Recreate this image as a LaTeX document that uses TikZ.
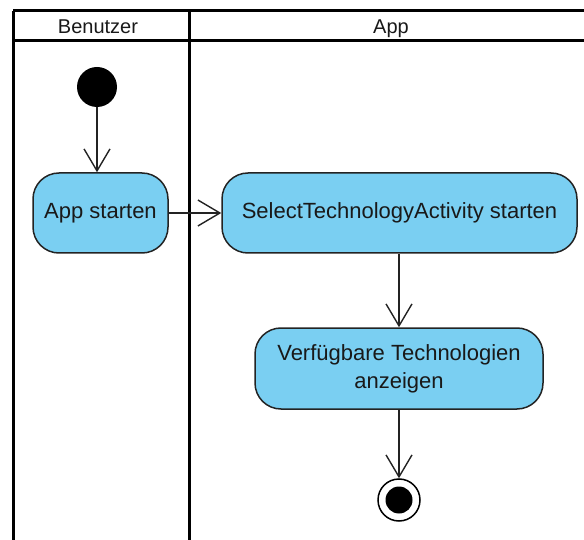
\documentclass[tikz,border=0pt]{standalone}
\usepackage{fontspec}
\setmainfont{Liberation Sans}
\usetikzlibrary{arrows.meta}
\definecolor{actfill}{RGB}{122,207,242}
\definecolor{actline}{RGB}{35,35,35}
\definecolor{txt}{RGB}{25,25,25}
\begin{document}
\begin{tikzpicture}[x=1pt,y=-1pt,
  lane/.style={line width=3pt, black},
  lanelabel/.style={inner sep=0pt, anchor=base, text=txt, font=\fontsize{20}{24}\selectfont},
  action/.style={draw=actline, fill=actfill, line width=1.5pt, rounded corners=26pt,
    minimum height=80pt, inner sep=0pt, align=center, text=txt,
    font=\fontsize{22}{28}\selectfont},
  flow/.style={line width=1.4pt, actline,
    -{Straight Barb[length=22pt, width=26pt, line width=1.4pt]}},
  startnode/.style={circle, fill=black, minimum size=40pt, inner sep=0pt},
  endring/.style={circle, draw=black, fill=white, line width=1.5pt, minimum size=42pt, inner sep=0pt},
  enddot/.style={circle, fill=black, minimum size=27pt, inner sep=0pt},
]
\useasboundingbox (0,0) rectangle (584,540);

% swimlane frame
\coordinate (tl) at (13,11);
\coordinate (hl) at (13,41);
\coordinate (tr) at (584,11);
\coordinate (hr) at (584,41);
\coordinate (dtop) at (189,11);
\coordinate (lbot) at (13,540);
\coordinate (dbot) at (189,540);
\draw[lane] (tl) -- (tr);
\draw[lane] (hl) -- (hr);
\draw[lane] (tl) -- (lbot);
\draw[lane] (dtop) -- (dbot);

% lane titles
\node[lanelabel] (laneuser) at (98,34) {Benutzer};
\node[lanelabel] (laneapp) at (391,34) {App};

% activity nodes
\node[startnode] (init) at (97,87) {};
\node[action, minimum width=135pt] (app) at (100.5,213) {App starten};
\node[action, minimum width=355pt] (select) at (399.5,213) {SelectTechnologyActivity starten};
\node[action, minimum width=288pt, minimum height=81pt] (show) at (399,368.5)
  {Verfügbare Technologien\\anzeigen};
\node[endring] (final) at (399,500) {};
\node[enddot] (finaldot) at (final.center) {};

% control flows
\draw[flow] (init) -- (init |- app.north);
\draw[flow] (app) -- (select);
\draw[flow] (select.south -| show.north) -- (show.north);
\draw[flow] (show) -- (final);
\end{tikzpicture}
\end{document}
